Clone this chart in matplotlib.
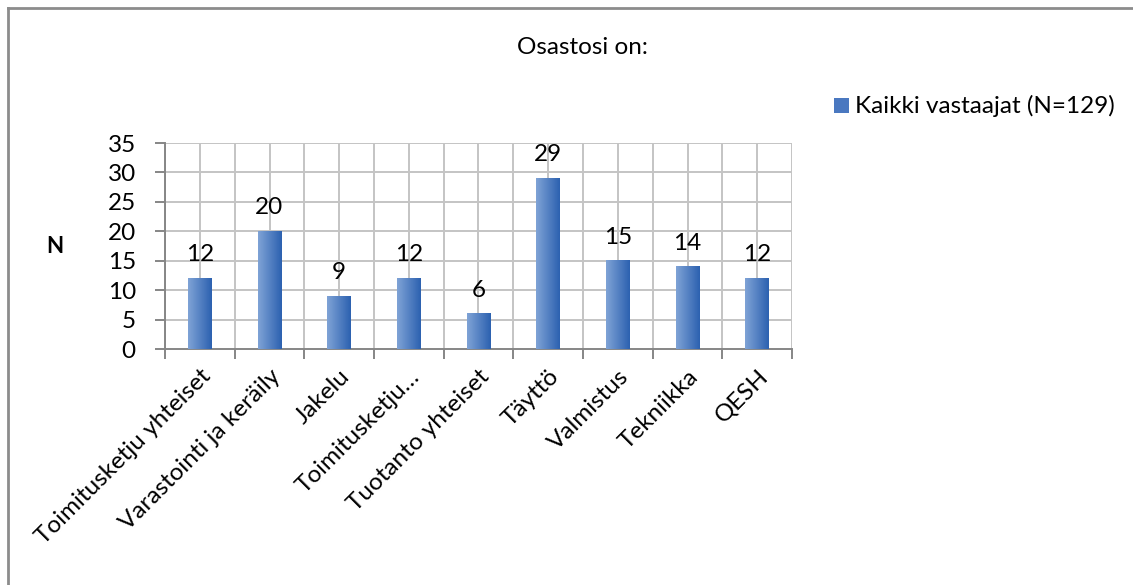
import matplotlib
matplotlib.use("Agg")
import matplotlib.pyplot as plt
import numpy as np
from matplotlib.colors import LinearSegmentedColormap
from matplotlib.patches import Rectangle
from matplotlib.lines import Line2D

categories = ["Toimitusketju yhteiset", "Varastointi ja keräily", "Jakelu",
              "Toimitusketju…", "Tuotanto yhteiset", "Täyttö", "Valmistus",
              "Tekniikka", "QESH"]
values = [12, 20, 9, 12, 6, 29, 15, 14, 12]
yticks = [0, 5, 10, 15, 20, 25, 30, 35]
title = "Osastosi on:"
series_name = "Kaikki vastaajat (N=129)"
ylabel = "N"

plt.rcParams['font.family'] = ['Lato', 'DejaVu Sans']
FS = 17.5

fig = plt.figure(figsize=(11.33, 5.85), dpi=100)
ax = fig.add_axes([165/1133, 1-349/585, (792-165)/1133, (349-143)/585])

n = len(categories)
x = np.arange(n)
bw = 0.34
cmap = LinearSegmentedColormap.from_list("g", ["#7fa3d6", "#2c61b0"])
grad = np.linspace(0, 1, 64).reshape(1, -1)
for xi, v in zip(x, values):
    ax.imshow(grad, cmap=cmap, extent=[xi - bw/2, xi + bw/2, 0, v],
              aspect='auto', zorder=3, interpolation='bilinear')
    ax.text(xi, v + 2.2, str(v), ha='center', va='bottom', fontsize=FS, color='black', zorder=4)

ax.set_xlim(-0.5, n - 0.5)
ax.set_ylim(0, 35)
ax.set_yticks(yticks)
ax.set_yticklabels([str(t) for t in yticks], fontsize=FS)

# gridlines: horizontal at yticks, vertical at category boundaries and centers
for t in yticks[1:]:
    ax.axhline(t, color='#c4c4c4', lw=1.4, zorder=1)
for b in np.arange(-0.5, n, 1.0):
    ax.axvline(b, color='#c4c4c4', lw=1.4, zorder=1)
for xi in x:
    ax.axvline(xi, color='#c4c4c4', lw=1.4, zorder=1)

ax.set_xticks(np.arange(-0.5, n, 1.0))
ax.set_xticklabels([])
ax.set_xticks(x, minor=True)
ax.set_xticklabels(categories, minor=True, rotation=45, ha='right', va='top',
                   rotation_mode='anchor', fontsize=FS)
ax.tick_params(axis='x', which='minor', length=0, pad=12)
ax.tick_params(axis='x', which='major', length=7, color='#868686', width=1.4)
ax.tick_params(axis='y', length=7, color='#868686', width=1.4, pad=14)

for s in ['top', 'right']:
    ax.spines[s].set_visible(False)
for s in ['left', 'bottom']:
    ax.spines[s].set_color('#868686')
    ax.spines[s].set_linewidth(1.4)

fig.text(582/1133, 1-48/585, title, ha='center', va='center', fontsize=FS)
fig.text(55/1133, 1-246/585, ylabel, ha='center', va='center', fontsize=16, fontweight='bold')

fig.patches.append(Rectangle((834/1133, 1-113/585), 15/1133, 15/585, transform=fig.transFigure,
                             facecolor='#4a78c0', edgecolor='none'))
fig.text(855/1133, 1-106/585, series_name, ha='left', va='center', fontsize=FS)

# outer border (top and left only visible)
fig.add_artist(Line2D([8/1133, 1], [1-8/585, 1-8/585], transform=fig.transFigure, color='#8c8c8c', lw=2))
fig.add_artist(Line2D([8/1133, 8/1133], [0, 1-8/585], transform=fig.transFigure, color='#8c8c8c', lw=2))

fig.savefig("out.png", dpi=100)
